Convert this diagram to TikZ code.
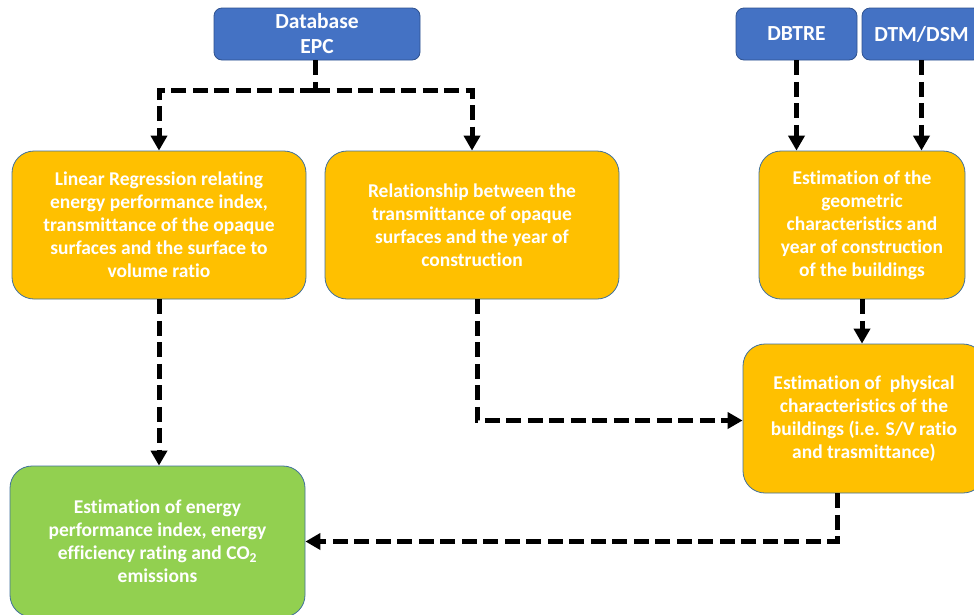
\documentclass[tikz,border=0pt]{standalone}
\usepackage{fontspec}
\setmainfont{Carlito}[Ligatures=NoCommon]
\usetikzlibrary{arrows.meta,calc}
\definecolor{boxblue}{HTML}{4472C4}
\definecolor{blueedge}{HTML}{2F528F}
\definecolor{boxorange}{HTML}{FFC000}
\definecolor{boxgreen}{HTML}{92D050}
\definecolor{edgeblue}{HTML}{41719C}
\begin{document}
\begin{tikzpicture}[x=1pt,y=-1pt,
  srcbox/.style={draw=blueedge,line width=0.8pt,fill=boxblue,rounded corners=8pt,
    text=white,font=\fontsize{21.5}{25}\selectfont\bfseries,align=center,inner sep=0pt,
    minimum height=52pt},
  procbox/.style={draw=edgeblue,line width=0.8pt,fill=boxorange,rounded corners=22pt,
    text=white,font=\fontsize{19.5}{23}\selectfont\bfseries,align=center,inner sep=0pt,
    minimum height=148pt},
  resbox/.style={procbox,fill=boxgreen},
  flow/.style={line width=5pt,dash pattern=on 15pt off 6.5pt,-{Triangle[width=16pt,length=15pt]}},
  flowline/.style={line width=5pt,dash pattern=on 15pt off 6.5pt}]
\useasboundingbox (0,0) rectangle (974,614);
\fill[white] (0,0) rectangle (974,614);

\node[srcbox,minimum width=206pt] (db) at (317,34) {Database\\EPC};
\node[srcbox,minimum width=121pt] (dbtre) at (796.5,34) {DBTRE};
\node[srcbox,minimum width=119pt] (dtm) at (921.5,34) {DTM/DSM};

\node[procbox,minimum width=294pt] (b1) at (159,225)
  {Linear Regression relating\\energy performance index,\\transmittance of the opaque\\surfaces and the surface to\\volume ratio};
\node[procbox,minimum width=294pt] (b2) at (472,225)
  {Relationship between the\\transmittance of opaque\\surfaces and the year of\\construction};
\node[procbox,minimum width=206pt] (b3) at (862,225)
  {Estimation of the\\geometric\\characteristics and\\year of construction\\of the buildings};
\node[procbox,minimum width=242pt,minimum height=149pt] (b4) at (864,418.5)
  {Estimation of~ physical\\characteristics of the\\buildings (i.e. S/V ratio\\and trasmittance)};
\node[resbox,minimum width=295pt,minimum height=151pt] (b5) at (157.5,541.5)
  {Estimation of energy\\performance index, energy\\efficiency rating and CO\textsubscript{2}\\emissions};

\coordinate (split) at ([xshift=-2pt]db.south |- 0,90);
\draw[flowline] ([xshift=-2pt]db.south) -- (split);
\draw[flow] (split) -| (b1.north);
\draw[flow] (split) -| (b2.north);
\draw[flow] (dbtre.south) -- (dbtre.south |- b3.north);
\draw[flow] (dtm.south) -- (dtm.south |- b3.north);
\draw[flow] (b3.south) -- (b3.south |- b4.north);
\draw[flow] (b1.south) -- (b1.south |- b5.north);
\draw[flow] ([xshift=5pt]b2.south) |- ([yshift=-2pt]b4.west);
\draw[flow] ([xshift=-27pt]b4.south) |- (b5.east);
\end{tikzpicture}
\end{document}
